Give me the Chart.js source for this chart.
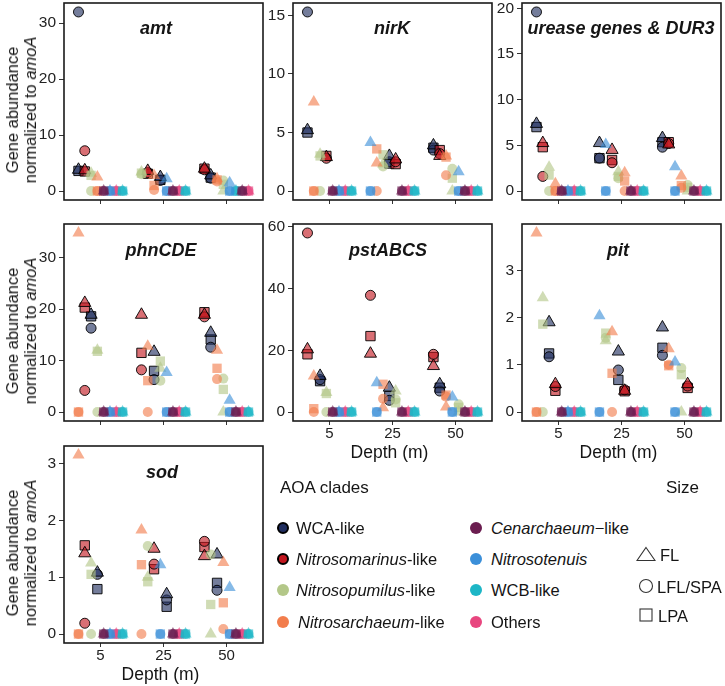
<!DOCTYPE html>
<html>
<head>
<meta charset="utf-8">
<script src="https://cdn.jsdelivr.net/npm/chart.js@4.4.0/dist/chart.umd.min.js"></script>
<style>
  body { margin: 0; background: #fff; }
  #wrap { position: relative; width: 725px; height: 686px; overflow: hidden;
          font-family: "Liberation Sans", Arial, sans-serif; color: #151515; }
  #wrap canvas { position: absolute; }
  .ttl { position: absolute; font-weight: bold; font-style: italic; font-size: 18px;
         transform: translate(-50%, -50%); white-space: nowrap; z-index: 2; }
  .ylab { position: absolute; font-size: 16.5px; line-height: 18px; white-space: nowrap; text-align: center;
          transform: translate(-50%, -50%) rotate(-90deg); }
  .xlab { position: absolute; font-size: 17.5px; transform: translate(-50%, -50%); white-space: nowrap; }
  .lg { position: absolute; font-size: 16.5px; white-space: nowrap; transform: translateY(-50%); }
  .dot { position: absolute; width: 12px; height: 12px; border-radius: 50%; transform: translate(-50%, -50%); box-sizing: border-box; }
  .sym { position: absolute; transform: translate(-50%, -50%); }
</style>
</head>
<body>
<div id="wrap"></div>
<script>
// categories
const depths = ['5', '25', '50'];
const clades = ['WCA-like', 'Nitrosomarinus-like', 'Nitrosopumilus-like', 'Nitrosarchaeum-like',
                'Cenarchaeum−like', 'Nitrosotenuis', 'WCB-like', 'Others'];
const sizes = ['FL', 'LFL/SPA', 'LPA'];

// values: one row per depth, columns in the clade order above
// order: clade indices from left to right inside each depth group
const amtFL  = [[3.8, 3.7, 3.2, 2.5, 0, 0, 0, 0], [2.5, 3.6, 3.4, 2.8, 0, 2.2, 0, 0], [2.8, 4.0, 0, 2.2, 0, 1.5, 0, 0]];
const amtLFL = [[32, 7.2, 0, 0, 0, 0, 0, 0], [1.9, 3.3, 3.0, 0.2, 0, 0, 0, 0], [2.3, 3.8, 1.9, 1.7, 0, 0, 0, 0]];
const amtLPA = [[3.6, 3.5, 2.8, 0, 0, 0, 0, 0], [2.0, 3.1, 3.2, 1.0, 0, 0, 0, 0], [2.4, 4.0, 1.2, 2.0, 0, 0, 0, 0]];
const amtOrder = [[0, 1, 2, 3, 4, 5, 7, 6], [2, 1, 3, 0, 5, 4, 7, 6], [1, 0, 3, 2, 5, 6, 4, 7]];
const amtTicks = [0, 10, 20, 30];

const nirKFL  = [[5.2, 2.9, 3.15, 7.6, 0, 0, 0, 0], [3.0, 2.7, 2.3, 2.4, 0, 4.15, 0, 0], [3.9, 3.0, 0, 3.0, 0, 1.65, 0, 0]];
const nirKLFL = [[15.3, 2.8, 0, 0, 0, 0, 0, 0], [2.5, 2.5, 2.1, 0, 0, 0, 0, 0], [3.5, 3.2, 1.9, 1.35, 0, 0, 0, 0]];
const nirKLPA = [[5.0, 3.0, 3.0, 0, 0, 0, 0, 0], [2.35, 2.3, 3.1, 3.6, 0, 0, 0, 0], [3.7, 3.5, 1.1, 2.9, 0, 0, 0, 0]];
const nirKOrder = [[0, 3, 2, 1, 4, 5, 7, 6], [5, 3, 2, 0, 1, 4, 7, 6], [0, 1, 3, 2, 5, 4, 7, 6]];
const nirKTicks = [0, 5, 10, 15];

const ureFL  = [[7.35, 5.25, 2.6, 0.8, 0, 0, 0, 0], [5.25, 4.5, 2.1, 2.0, 0, 5.1, 0, 0], [5.8, 5.1, 0, 1.65, 0, 2.65, 0, 0]];
const ureLFL = [[19.6, 1.6, 0, 0, 0, 0, 0, 0], [3.6, 3.1, 1.4, 0, 0, 0, 0, 0], [4.8, 5.2, 0.65, 0.35, 0, 0, 0, 0]];
const ureLPA = [[7.0, 4.8, 1.75, 0, 0, 0, 0, 0], [3.6, 3.4, 1.6, 1.1, 0, 0, 0, 0], [5.35, 5.35, 0.4, 0.6, 0, 0, 0, 0]];
const ureOrder = [[0, 1, 2, 3, 4, 5, 7, 6], [0, 5, 1, 2, 3, 4, 7, 6], [0, 1, 5, 3, 2, 4, 7, 6]];
const ureTicks = [0, 5, 10, 15, 20];

const phnFL  = [[18.9, 21.2, 12.0, 34.8, 0, 0, 0, 0], [11.7, 18.9, 8.5, 12.8, 0, 7.7, 0, 0], [15.4, 18.9, 0, 12.0, 0, 2.3, 0, 0]];
const phnLFL = [[16.3, 4.2, 0, 0, 0, 0, 0, 0], [6.3, 8.2, 6.1, 0, 0, 0, 0, 0], [12.6, 18.5, 6.5, 6.4, 0, 0, 0, 0]];
const phnLPA = [[18.6, 20.3, 11.8, 0, 0, 0, 0, 0], [8.0, 11.5, 9.9, 6.1, 0, 0, 0, 0], [14.1, 19.4, 4.4, 8.5, 0, 0, 0, 0]];
const phnOrder = [[3, 1, 0, 2, 4, 5, 7, 6], [1, 3, 0, 2, 5, 4, 7, 6], [1, 0, 3, 2, 5, 4, 7, 6]];
const phnTicks = [0, 10, 20, 30];

const pstFL  = [[11.7, 20.3, 6.3, 11.7, 0, 0, 0, 0], [7.9, 18.9, 6.8, 1.4, 0, 9.5, 0, 0], [9.0, 14.9, 0, 1.6, 0, 4.9, 0, 0]];
const pstLFL = [[10.5, 58, 0, 0, 0, 0, 0, 0], [3.8, 37.8, 4.1, 4.3, 0, 0, 0, 0], [6.8, 18.7, 2.5, 5.0, 0, 0, 0, 0]];
const pstLPA = [[10.0, 18.7, 6.0, 1.1, 0, 0, 0, 0], [5.2, 24.6, 3.0, 9.0, 0, 0, 0, 0], [7.9, 17.8, 1.5, 5.5, 0, 0, 0, 0]];
const pstOrder = [[1, 3, 0, 2, 4, 5, 7, 6], [1, 5, 3, 0, 2, 4, 7, 6], [1, 0, 3, 5, 2, 4, 7, 6]];
const pstTicks = [0, 20, 40, 60];

const pitFL  = [[1.9, 0.59, 2.42, 3.79, 0, 0, 0, 0], [1.28, 0.45, 1.51, 1.7, 0, 2.04, 0, 0], [1.79, 0.59, 0, 1.34, 0, 1.06, 0, 0]];
const pitLFL = [[1.17, 0.54, 0, 0, 0, 0, 0, 0], [0.89, 0.47, 1.57, 0, 0, 0, 0, 0], [1.2, 0.55, 0.93, 1.0, 0, 0, 0, 0]];
const pitLPA = [[1.24, 0.45, 1.86, 0, 0, 0, 0, 0], [0.68, 0.44, 1.67, 0.82, 0, 0, 0, 0], [1.36, 0.51, 0.79, 0.98, 0, 0, 0, 0]];
const pitOrder = [[3, 2, 0, 1, 4, 5, 7, 6], [5, 2, 3, 0, 1, 4, 7, 6], [0, 3, 5, 2, 1, 4, 7, 6]];
const pitTicks = [0, 1, 2, 3];

const sodFL  = [[1.08, 1.42, 1.25, 3.15, 0, 0, 0, 0], [0.7, 1.5, 1.0, 1.83, 0, 1.22, 0, 0], [1.4, 1.37, 0, 1.26, 0, 0.82, 0, 0]];
const sodLFL = [[1.05, 0.19, 0, 0, 0, 0, 0, 0], [0.6, 1.23, 1.55, 0, 0, 0, 0, 0], [0.77, 1.63, 1.4, 0.09, 0, 0, 0, 0]];
const sodLPA = [[0.79, 1.56, 1.05, 0, 0, 0, 0, 0], [0.48, 1.14, 0.92, 1.22, 0, 0, 0, 0], [0.9, 1.53, 0.52, 0.55, 0, 0, 0, 0]];
const sodOrder = [[3, 1, 2, 0, 4, 5, 7, 6], [3, 2, 1, 5, 0, 4, 7, 6], [1, 2, 0, 3, 5, 4, 7, 6]];
const sodTicks = [0, 1, 2, 3];

// styling
const FONT = '"Liberation Sans", Arial, sans-serif';
const cladeColors = ['#1f2d5e', '#c1161e', '#b3c788', '#f27d4c', '#6b1d50', '#3b8fd9', '#1db6c6', '#e8467f'];
const outlined = [true, true, false, false, false, false, false, false];
const shapes = ['triangle', 'circle', 'rect'];
const radii = [7, 5, 6.6];
const drawOrder = [4, 5, 6, 7, 3, 2, 1, 0];

const colLeft = [64, 293, 522];
const rowTop = [3, 224, 446];
const plotW = 201, plotH = 197;

const panels = [
  { title: 'amt', fl: amtFL, lfl: amtLFL, lpa: amtLPA, order: amtOrder, ticks: amtTicks, col: 0, row: 0, tx: 92, ty: 25 },
  { title: 'nirK', fl: nirKFL, lfl: nirKLFL, lpa: nirKLPA, order: nirKOrder, ticks: nirKTicks, col: 1, row: 0, tx: 99, ty: 25 },
  { title: 'urease genes & DUR3', fl: ureFL, lfl: ureLFL, lpa: ureLPA, order: ureOrder, ticks: ureTicks, col: 2, row: 0, tx: 99, ty: 25 },
  { title: 'phnCDE', fl: phnFL, lfl: phnLFL, lpa: phnLPA, order: phnOrder, ticks: phnTicks, col: 0, row: 1, tx: 97, ty: 26 },
  { title: 'pstABCS', fl: pstFL, lfl: pstLFL, lpa: pstLPA, order: pstOrder, ticks: pstTicks, col: 1, row: 1, tx: 95, ty: 26, xlab: true },
  { title: 'pit', fl: pitFL, lfl: pitLFL, lpa: pitLPA, order: pitOrder, ticks: pitTicks, col: 2, row: 1, tx: 96, ty: 26, xlab: true },
  { title: 'sod', fl: sodFL, lfl: sodLFL, lpa: sodLPA, order: sodOrder, ticks: sodTicks, col: 0, row: 2, tx: 98, ty: 26, xlab: true }
];

const wrap = document.getElementById('wrap');

function rgba(hex, a) {
  const n = parseInt(hex.slice(1), 16);
  return `rgba(${n >> 16},${(n >> 8) & 255},${n & 255},${a})`;
}

function addDiv(cls, html, x, y) {
  const d = document.createElement('div');
  d.className = cls;
  d.innerHTML = html;
  d.style.left = x + 'px';
  d.style.top = y + 'px';
  wrap.appendChild(d);
  return d;
}

const framePlugin = {
  id: 'frame',
  afterDatasetsDraw(chart) {
    const { ctx, chartArea: a } = chart;
    ctx.save();
    ctx.strokeStyle = '#1a1a1a';
    ctx.lineWidth = 1.6;
    ctx.strokeRect(a.left, a.top, a.right - a.left, a.bottom - a.top);
    ctx.restore();
  }
};

function makePanel(p) {
  // padT leaves room for the top tick label so Chart.js keeps the plot box height
  const padL = 46, padT = 14, padR = 6, padB = 30;
  const L = colLeft[p.col], T = rowTop[p.row];
  const cv = document.createElement('canvas');
  cv.width = padL + plotW + padR;
  cv.height = padT + plotH + padB;
  cv.style.left = (L - padL) + 'px';
  cv.style.top = (T - padT) + 'px';
  wrap.appendChild(cv);

  const sets = [p.fl, p.lfl, p.lpa];
  const top = Math.max(...sets.flat(2));
  const datasets = [];
  drawOrder.forEach(c => {
    sets.forEach((vals, s) => {
      datasets.push({
        label: clades[c] + ' ' + sizes[s],
        data: depths.map((d, i) => ({ x: i + 1 + (p.order[i].indexOf(c) - 3.5) * 0.1, y: vals[i][c] })),
        pointStyle: shapes[s],
        pointRadius: radii[s],
        pointHoverRadius: radii[s],
        backgroundColor: rgba(cladeColors[c], 0.62),
        borderColor: outlined[c] ? 'rgba(0,0,0,0.9)' : 'rgba(0,0,0,0)',
        borderWidth: outlined[c] ? 1 : 0,
        showLine: false
      });
    });
  });

  new Chart(cv, {
    type: 'scatter',
    data: { datasets },
    options: {
      responsive: false,
      animation: false,
      events: [],
      layout: { padding: { left: 0, top: padT, right: padR, bottom: 0 } },
      plugins: { legend: { display: false }, tooltip: { enabled: false } },
      scales: {
        x: {
          type: 'linear', min: 0.42, max: 3.58,
          afterBuildTicks: a => { a.ticks = depths.map((d, i) => ({ value: i + 1 })); },
          ticks: {
            callback: (v, i) => p.xlab ? depths[i] : '',
            font: { family: FONT, size: 15 }, color: '#222', padding: 0, maxRotation: 0, autoSkip: false
          },
          grid: { drawOnChartArea: false, drawTicks: true, tickLength: 4, color: '#333', lineWidth: 1 },
          border: { display: false },
          afterFit: s => { s.height = padB; }
        },
        y: {
          type: 'linear', min: -0.05 * top, max: 1.05 * top,
          afterBuildTicks: a => { a.ticks = p.ticks.map(v => ({ value: v })); },
          ticks: { font: { family: FONT, size: 15.5 }, color: '#222', padding: 3 },
          grid: { drawOnChartArea: false, drawTicks: true, tickLength: 5, color: '#333', lineWidth: 1 },
          border: { display: false },
          afterFit: s => { s.width = padL; }
        }
      }
    },
    plugins: [framePlugin]
  });

  addDiv('ttl', p.title, L + p.tx, T + p.ty);
  if (p.col === 0) {
    addDiv('ylab', 'Gene abundance<br>normalized to <i>amoA</i>', 21, T + plotH / 2 + 8);
  }
  if (p.xlab) {
    addDiv('xlab', 'Depth (m)', L + plotW / 2 - 4, T + plotH + 31);
  }
}

panels.forEach(makePanel);

// legend
addDiv('lg', 'AOA clades', 280, 488).style.fontSize = '17px';
addDiv('lg', 'Size', 666, 488).style.fontSize = '17px';
const legendText = ['WCA-like', '<i>Nitrosomarinus</i>-like', '<i>Nitrosopumilus</i>-like', '<i>Nitrosarchaeum</i>-like',
                    '<i>Cenarchaeum</i>−like', '<i>Nitrosotenuis</i>', 'WCB-like', 'Others'];
const legendRows = [528, 559, 590, 622];
clades.forEach((name, c) => {
  const colX = c < 4 ? 282.5 : 476;
  const y = legendRows[c % 4];
  const dot = addDiv('dot', '', colX, y);
  dot.style.background = cladeColors[c];
  if (outlined[c]) dot.style.border = '2px solid #000';
  addDiv('lg', legendText[c], c < 4 ? (c === 3 ? 298 : 296) : 491, y);
});
const symSvg = [
  '<svg width="20" height="16"><polygon points="10,1.5 19,14.5 1,14.5" fill="none" stroke="#333" stroke-width="1.1"/></svg>',
  '<svg width="15" height="15"><circle cx="7.5" cy="7.5" r="6.5" fill="none" stroke="#333" stroke-width="1.1"/></svg>',
  '<svg width="14" height="14"><rect x="1" y="1" width="12" height="12" fill="none" stroke="#333" stroke-width="1.1"/></svg>'
];
const sizeRows = [556, 588, 617];
const sizeTextX = [660, 657, 658];
sizes.forEach((s, i) => {
  addDiv('sym', symSvg[i], 646, sizeRows[i]);
  addDiv('lg', s, sizeTextX[i], sizeRows[i] - 1);
});
</script>
</body>
</html>
